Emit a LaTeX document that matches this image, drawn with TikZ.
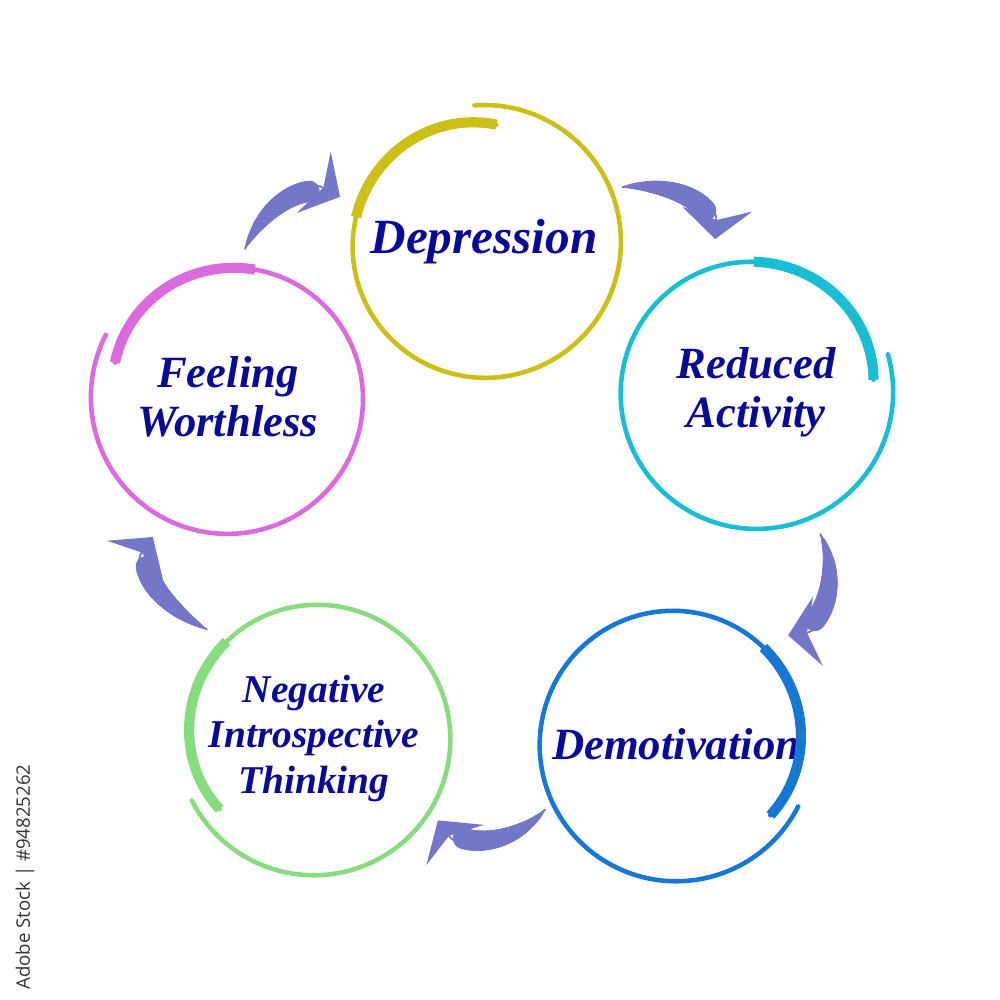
\documentclass[tikz,border=0pt]{standalone}
\usepackage{fontspec}
\setmainfont{Liberation Serif}
\newfontfamily\stocksans{Open Sans}
\usepackage{tikz}
\usetikzlibrary{arrows.meta,positioning,decorations.markings}

\definecolor{depyellow}{RGB}{204,192,24}
\definecolor{redcyan}{RGB}{26,190,212}
\definecolor{demblue}{RGB}{22,120,210}
\definecolor{neggreen}{RGB}{136,220,128}
\definecolor{feepink}{RGB}{218,106,222}
\definecolor{arrowblue}{RGB}{116,118,200}
\definecolor{textblue}{RGB}{10,10,150}

\begin{document}
\begin{tikzpicture}[x=0.01cm,y=0.01cm,on grid,
    declare function={ringr(\t)=137-19*(\t/370)^4;},
    stage/.style={circle,minimum size=2.68cm,inner sep=0pt,align=center,text=textblue,
      font=\fontsize{12.7}{14}\selectfont\bfseries\itshape},
    thinring/.style={line width=1.3pt,line cap=round,domain=0:370,samples=160,variable=\s},
    thickring/.style={line width=2.9pt,domain=285:370,samples=50,variable=\s},
    swoosh/.style={-{Stealth[length=3mm,width=7mm,inset=1.1mm]},arrowblue,line width=0.5pt,
      postaction={decorate,decoration={markings,
        mark=between positions 0 and 0.75 step 0.4pt with
          {\pgfmathsetmacro\rr{0.2+2.8*(1-(1-\pgfkeysvalueof{/pgf/decoration/mark info/distance from start}/(0.75*\pgfdecoratedpathlength))^2)}
           \fill circle (\rr pt);}}}}]

  \fill[white] (0,0) rectangle (1000,1000);
  \useasboundingbox (0,0) rectangle (1000,1000);

  \node[stage,font=\fontsize{14}{15}\selectfont\bfseries\itshape] (dep) at (484,758) {Depression};
  \node[stage]                  (red) [below right=1.50cm and 2.72cm of dep] {Reduced\\Activity};
  \node[stage]                  (dem) [below left=3.52cm and 0.80cm of red] {Demotivation};
  \node[stage,font=\fontsize{11.2}{13}\selectfont\bfseries\itshape] (neg) [above left=0.06cm and 3.62cm of dem] {Negative\\Introspective\\Thinking};
  \node[stage]                  (fee) [above left=3.41cm and 0.86cm of neg] {Feeling\\Worthless};

  \foreach \n/\c/\a/\d in {dep/depyellow/94/-1,red/redcyan/16/-1,dem/demblue/-27/-1,neg/neggreen/207/1,fee/feepink/153/1}{
    \draw[thinring,\c,shift={(\n.center)}] plot ({ringr(\s)*cos(\a+(\d)*\s)},{ringr(\s)*sin(\a+(\d)*\s)});
    \draw[thickring,\c,shift={(\n.center)}] plot ({ringr(\s)*cos(\a+(\d)*\s)},{ringr(\s)*sin(\a+(\d)*\s)});
  }

  \path ([shift={(21.7:148.6)}]dep.center) edge[swoosh,out=7,in=86] ([shift={(105:158.4)}]red.center)
        ([shift={(-65.7:155.8)}]red.center) edge[swoosh,out=-63,in=8] ([shift={(44.2:156.3)}]dem.center)
        ([shift={(206.4:146.2)}]dem.center) edge[swoosh,out=230,in=-55] ([shift={(-33.5:148.7)}]neg.center)
        ([shift={(134.5:152.7)}]neg.center) edge[swoosh,out=153,in=234] ([shift={(241.8:158.8)}]fee.center)
        ([shift={(83.4:149)}]fee.center) edge[swoosh,out=67,in=151] ([shift={(162.6:150.9)}]dep.center);

  \node[rotate=90,text=black!80,font=\fontsize{5.3}{6}\selectfont\stocksans] (stock) at (25,123) {Adobe Stock | \#94825262};

\end{tikzpicture}
\end{document}
